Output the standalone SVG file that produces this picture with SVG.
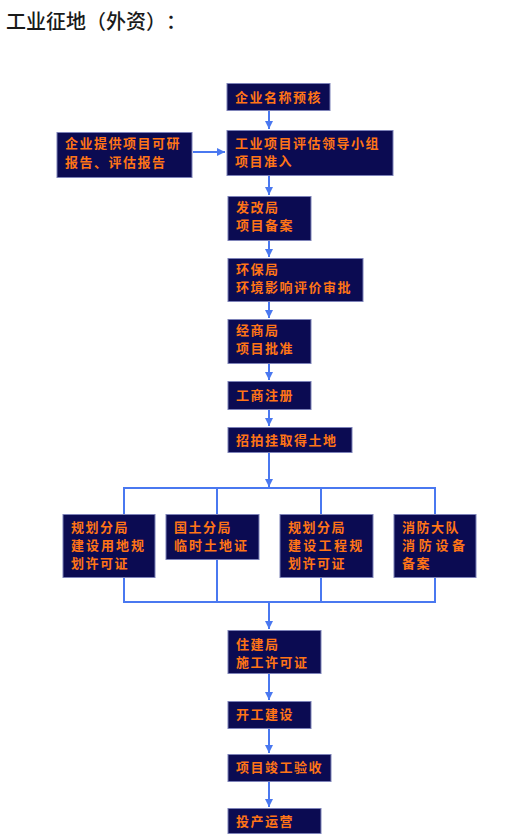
<svg xmlns="http://www.w3.org/2000/svg" width="518" height="839" viewBox="0 0 518 839">
<style>
text{text-spacing-trim:space-all}
.b{fill:#0b0b52;stroke:#7d82b8;stroke-width:1}
.t{fill:#ff7416;font-family:"Noto Sans CJK SC","Noto Sans CJK JP",sans-serif;font-size:13px;font-weight:bold;letter-spacing:1.5px}
.c{stroke:#4a78f0;stroke-width:2;fill:none}
.title{fill:#1a1a1a;font-family:"Noto Sans CJK SC","Noto Sans CJK JP",sans-serif;font-size:20px;font-weight:500}
</style>
<defs>
<marker id="ar" viewBox="0 0 8 8" refX="8" refY="4" markerWidth="4" markerHeight="4" orient="auto" markerUnits="strokeWidth">
<path d="M0,0 L8,4 L0,8 Z" fill="#4a78f0"/>
</marker>
</defs>
<rect width="518" height="839" fill="#ffffff"/>
<text class="title" x="6" y="29">工业征地（外资）：</text>
<g id="connectors">
<line class="c" x1="269" y1="110" x2="269" y2="129" marker-end="url(#ar)"/>
<line class="c" x1="193" y1="152" x2="225" y2="152" marker-end="url(#ar)"/>
<line class="c" x1="269" y1="175" x2="269" y2="195" marker-end="url(#ar)"/>
<line class="c" x1="269" y1="240" x2="269" y2="257" marker-end="url(#ar)"/>
<line class="c" x1="269" y1="301" x2="269" y2="318" marker-end="url(#ar)"/>
<line class="c" x1="269" y1="363" x2="269" y2="380" marker-end="url(#ar)"/>
<line class="c" x1="269" y1="409" x2="269" y2="426" marker-end="url(#ar)"/>
<line class="c" x1="269" y1="452" x2="269" y2="487" marker-end="url(#ar)"/>
<path class="c" d="M124,514 V488 H435 V514 M217,488 V514 M321,488 V514"/>
<path class="c" d="M124,577 V602 H435 V577 M217,559 V602 M321,577 V602"/>
<line class="c" x1="269" y1="602" x2="269" y2="629" marker-end="url(#ar)"/>
<line class="c" x1="269" y1="673" x2="269" y2="700" marker-end="url(#ar)"/>
<line class="c" x1="269" y1="728" x2="269" y2="753" marker-end="url(#ar)"/>
<line class="c" x1="269" y1="781" x2="269" y2="807" marker-end="url(#ar)"/>
</g>
<g id="n1"><rect class="b" x="227" y="83.5" width="103" height="27"/><text class="t" x="235" y="101.5">企业名称预核</text></g>
<g id="n2"><rect class="b" x="227" y="130.5" width="166" height="45"/><text class="t" x="235" y="148">工业项目评估领导小组</text><text class="t" x="235" y="166">项目准入</text></g>
<g id="n0"><rect class="b" x="57" y="132.5" width="135" height="45"/><text class="t" x="65" y="148">企业提供项目可研</text><text class="t" x="65" y="167">报告、评估报告</text></g>
<g id="n3"><rect class="b" x="228" y="196.5" width="83" height="44"/><text class="t" x="236" y="212">发改局</text><text class="t" x="236" y="230">项目备案</text></g>
<g id="n4"><rect class="b" x="228" y="258.5" width="135" height="43"/><text class="t" x="236" y="274">环保局</text><text class="t" x="236" y="292">环境影响评价审批</text></g>
<g id="n5"><rect class="b" x="228" y="319.5" width="83" height="44"/><text class="t" x="236" y="335">经商局</text><text class="t" x="236" y="353">项目批准</text></g>
<g id="n6"><rect class="b" x="228" y="381.5" width="83" height="28"/><text class="t" x="236" y="399.5">工商注册</text></g>
<g id="n7"><rect class="b" x="228" y="427.5" width="124" height="25"/><text class="t" x="236" y="444.5">招拍挂取得土地</text></g>
<g id="n8"><rect class="b" x="63" y="514.5" width="92" height="63"/><text class="t" x="71" y="532">规划分局</text><text class="t" x="71" y="550" style="letter-spacing:2px">建设用地规</text><text class="t" x="71" y="568">划许可证</text></g>
<g id="n9"><rect class="b" x="166" y="514.5" width="93" height="45"/><text class="t" x="174" y="532">国土分局</text><text class="t" x="174" y="550" style="letter-spacing:2px">临时土地证</text></g>
<g id="n10"><rect class="b" x="280" y="514.5" width="93" height="63"/><text class="t" x="288" y="532">规划分局</text><text class="t" x="288" y="550" style="letter-spacing:2.3px">建设工程规</text><text class="t" x="288" y="568">划许可证</text></g>
<g id="n11"><rect class="b" x="394" y="514.5" width="82" height="63"/><text class="t" x="402" y="532">消防大队</text><text class="t" x="402" y="550" style="letter-spacing:3.7px">消防设备</text><text class="t" x="402" y="568">备案</text></g>
<g id="n12"><rect class="b" x="228" y="630.5" width="93" height="43"/><text class="t" x="236" y="649">住建局</text><text class="t" x="236" y="667">施工许可证</text></g>
<g id="n13"><rect class="b" x="228" y="701.5" width="83" height="27"/><text class="t" x="236" y="719">开工建设</text></g>
<g id="n14"><rect class="b" x="228" y="754.5" width="103" height="27"/><text class="t" x="236" y="772">项目竣工验收</text></g>
<g id="n15"><rect class="b" x="228" y="808.5" width="93" height="25"/><text class="t" x="236" y="826">投产运营</text></g>
</svg>
